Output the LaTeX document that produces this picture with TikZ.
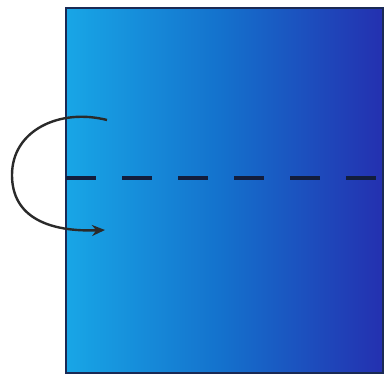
\documentclass[tikz,border=0pt]{standalone}
\usetikzlibrary{arrows.meta}
\definecolor{lightb}{HTML}{18A6E6}
\definecolor{midb}{HTML}{1470CC}
\definecolor{darkb}{HTML}{2430B0}
\definecolor{edgeb}{HTML}{1A2A55}
\definecolor{arc}{HTML}{2A2A2A}
\tikzset{
  fold/.style={draw=edgeb!70!black, line width=3.5pt, dash pattern=on 30pt off 26pt},
  turn/.style={draw=arc, line width=2.4pt, -{Stealth[length=13pt,width=11pt]}}
}
\begin{document}
\begin{tikzpicture}[x=1pt,y=-1pt]
\useasboundingbox (0,0) rectangle (385,377);
\path[fill=white] (0,0) rectangle (385,377);
\shade[left color=lightb, right color=darkb, middle color=midb] (66,8) rectangle (383,373);
\draw[edgeb, line width=2.4pt] (66,8) rectangle (383,373);
\coordinate (fl) at (66,178);
\coordinate (fr) at (383,178);
\draw[fold] (fl) -- (fr);
\coordinate (as) at (107,120);
\coordinate (am) at (12,175);
\coordinate (ae) at (105,230);
\draw[turn] (as) .. controls (60,108) and (12,130) .. (am) .. controls (12,218) and (50,232) .. (ae);
\end{tikzpicture}
\end{document}
